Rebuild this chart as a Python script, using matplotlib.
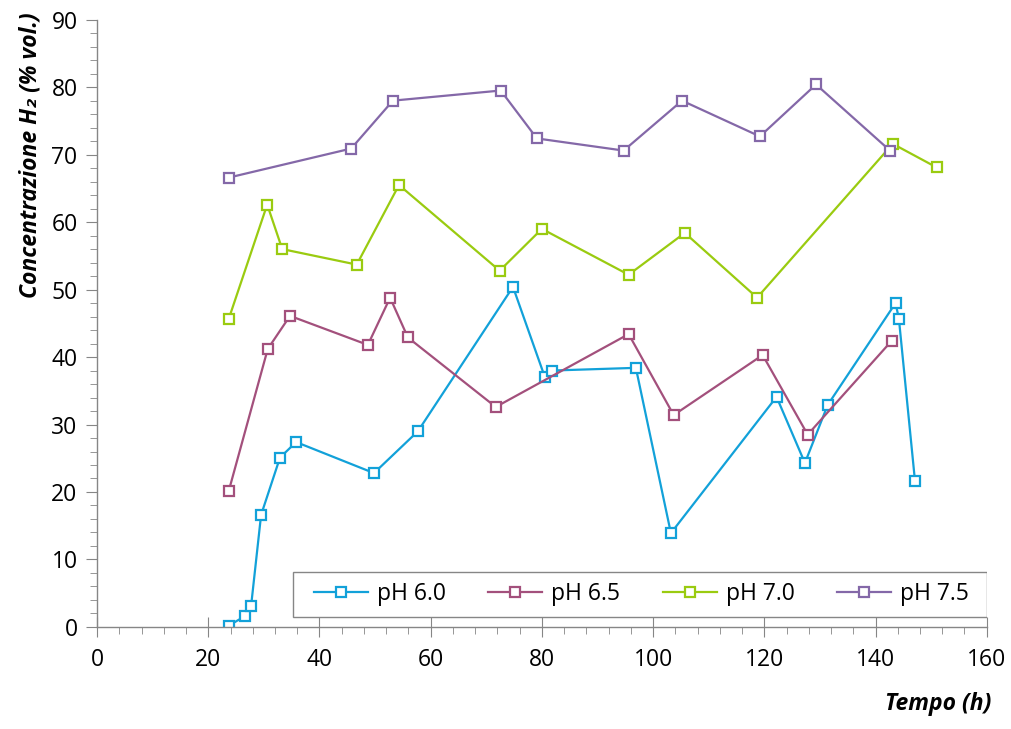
import numpy as np
import matplotlib.pyplot as plt
from matplotlib.ticker import MultipleLocator
from matplotlib.patches import Rectangle

plt.rcParams['font.family'] = ['Open Sans', 'DejaVu Sans']

## Dati
t_60 = [23.7, 26.6, 27.7, 29.5, 32.9, 35.8, 49.8, 57.7, 74.8, 80.5, 81.8, 96.9,
        103.2, 122.2, 127.3, 131.4, 143.6, 144.2, 147.1]
h2_60 = [0.2, 1.6, 3.1, 16.6, 25.1, 27.4, 22.8, 29.0, 50.4, 37.1, 38.0, 38.4,
         13.9, 34.1, 24.3, 32.9, 48.0, 45.7, 21.6]

t_65 = [23.7, 30.7, 34.7, 48.7, 52.7, 55.9, 71.7, 95.6, 103.7, 119.7, 127.8, 142.9]
h2_65 = [20.2, 41.2, 46.1, 41.8, 48.8, 42.9, 32.6, 43.4, 31.4, 40.3, 28.5, 42.4]

t_70 = [23.7, 30.6, 33.3, 46.7, 54.3, 72.4, 80.0, 95.6, 105.7, 118.7, 143.1, 151.0]
h2_70 = [45.7, 62.6, 56.0, 53.7, 65.5, 52.8, 59.0, 52.2, 58.4, 48.8, 71.6, 68.1]

t_75 = [23.7, 45.7, 53.2, 72.6, 79.1, 94.7, 105.2, 119.2, 129.3, 142.6]
h2_75 = [66.6, 70.9, 78.0, 79.5, 72.4, 70.6, 78.0, 72.7, 80.4, 70.6]

etichette = ['pH 6.0', 'pH 6.5', 'pH 7.0', 'pH 7.5']
colori = ['#12a1d9', '#a3507c', '#9acb10', '#8468a8']

fig = plt.figure(figsize=(10.11, 7.29), dpi=100)
ax = fig.add_axes([0.096, 0.140, 0.880, 0.833])

serie = [(t_60, h2_60), (t_65, h2_65), (t_70, h2_70), (t_75, h2_75)]
for (t, h), lab, c in zip(serie, etichette, colori):
    ax.plot(t, h, '-s', color=c, lw=1.6, label=lab, markersize=7.5,
            markerfacecolor='white', markeredgecolor=c, markeredgewidth=1.6)

ax.set_xlim(0, 160)
ax.set_ylim(0, 90)
ax.xaxis.set_major_locator(MultipleLocator(20))
ax.xaxis.set_minor_locator(MultipleLocator(4))
ax.yaxis.set_major_locator(MultipleLocator(10))
ax.yaxis.set_minor_locator(MultipleLocator(2))

for s in ['top', 'right']:
    ax.spines[s].set_visible(False)
for s in ['left', 'bottom']:
    ax.spines[s].set_color('#868686')
    ax.spines[s].set_linewidth(1.0)

ax.tick_params(axis='both', which='both', colors='#868686', labelcolor='black',
               labelsize=16.5)
ax.tick_params(axis='x', which='major', direction='inout', length=14, pad=8)
ax.tick_params(axis='x', which='minor', direction='out', length=5)
ax.tick_params(axis='y', which='major', direction='out', length=8, pad=6)
ax.tick_params(axis='y', which='minor', direction='out', length=5)

# cornice della legenda (stile Excel)
cornice = Rectangle((0.22, 0.0165), 0.78, 0.074, transform=ax.transAxes,
                    facecolor='white', edgecolor='#868686', lw=1.0, zorder=4)
ax.add_patch(cornice)
leg = ax.legend(loc='center', bbox_to_anchor=(0.612, 0.0535), ncol=4,
                fontsize=16.5, frameon=False, handlelength=2.35,
                handletextpad=0.4, columnspacing=1.85, borderaxespad=0)
leg.set_zorder(5)

fig.text(0.030, 0.787, 'Concentrazione H₂ (% vol.)', rotation=90,
         ha='center', va='center', fontsize=16.5, fontweight='bold', style='italic')
fig.text(0.981, 0.018, 'Tempo (h)', ha='right', va='bottom',
         fontsize=16.5, fontweight='bold', style='italic')

plt.savefig('out.png', dpi=100)
